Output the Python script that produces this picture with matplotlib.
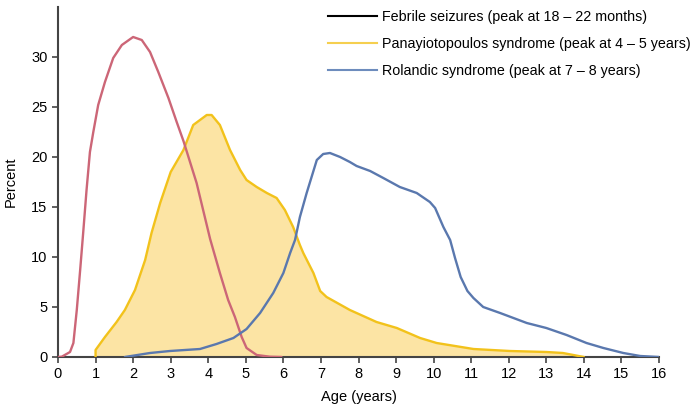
import matplotlib
matplotlib.use("Agg")
import matplotlib.pyplot as plt
from matplotlib.lines import Line2D

plt.rcParams['font.family'] = ['Liberation Sans', 'DejaVu Sans']

# Febrile seizures
feb_x = [0.0, 0.1, 0.32, 0.41, 0.50, 0.59, 0.67, 0.76, 0.85, 0.94, 1.07, 1.25, 1.47, 1.70,
         2.0, 2.23, 2.45, 2.67, 2.94, 3.16, 3.34, 3.69, 4.05, 4.31, 4.53, 4.71, 4.89, 5.02,
         5.29, 5.64, 5.95]
feb_y = [0.0, 0.03, 0.5, 1.4, 4.7, 8.7, 12.4, 16.7, 20.5, 22.5, 25.2, 27.5, 29.9, 31.2,
         32.0, 31.7, 30.5, 28.5, 25.9, 23.5, 21.6, 17.4, 11.8, 8.4, 5.7, 4.0, 2.0, 0.9,
         0.2, 0.03, 0.0]

# Panayiotopoulos syndrome
pan_x = [1.0, 1.0, 1.25, 1.56, 1.78, 2.05, 2.32, 2.49, 2.72, 3.0, 3.34, 3.6, 3.78, 3.96,
         4.09, 4.31, 4.58, 4.85, 5.02, 5.29, 5.56, 5.82, 6.04, 6.26, 6.44, 6.53, 6.8,
         6.98, 7.15, 7.77, 8.48, 9.02, 9.64, 10.08, 11.06, 12.03, 13.0, 13.44, 14.0]
pan_y = [0.0, 0.7, 2.0, 3.5, 4.7, 6.7, 9.7, 12.4, 15.4, 18.5, 20.7, 23.2, 23.7, 24.2,
         24.2, 23.2, 20.7, 18.7, 17.7, 17.0, 16.4, 15.9, 14.7, 13.0, 11.2, 10.4, 8.4,
         6.6, 6.0, 4.7, 3.5, 2.9, 1.9, 1.4, 0.8, 0.6, 0.5, 0.4, 0.0]

# Rolandic syndrome
rol_x = [1.78, 2.45, 2.98, 3.78, 4.22, 4.67, 5.02, 5.38, 5.73, 6.0, 6.18, 6.31, 6.44, 6.62,
         6.89, 7.06, 7.24, 7.51, 7.77, 7.95, 8.31, 8.66, 9.1, 9.55, 9.9, 10.04, 10.26,
         10.44, 10.57, 10.72, 10.9, 11.06, 11.32, 11.77, 12.48, 13.0, 13.54, 14.07, 14.52,
         15.05, 15.5, 16.0]
rol_y = [0.0, 0.4, 0.6, 0.8, 1.3, 1.9, 2.8, 4.4, 6.4, 8.4, 10.4, 11.7, 14.0, 16.4,
         19.7, 20.3, 20.4, 20.0, 19.5, 19.1, 18.6, 17.9, 17.0, 16.4, 15.5, 14.9, 13.0,
         11.7, 9.9, 8.0, 6.6, 5.9, 5.0, 4.4, 3.4, 2.9, 2.2, 1.4, 0.9,
         0.4, 0.1, 0.0]

labels = ["Febrile seizures (peak at 18 \u2013 22 months)",
          "Panayiotopoulos syndrome (peak at 4 \u2013 5 years)",
          "Rolandic syndrome (peak at 7 \u2013 8 years)"]

red = "#cc6677"
yellow = "#f2c21b"
yfill = "#fce4a4"
blue = "#5a78ae"

fig = plt.figure(figsize=(7.0, 4.09), dpi=100)
ax = fig.add_axes([58/700, 1-357/409, (659-58)/700, (357-7)/409])

ax.fill_between(pan_x, pan_y, 0, color=yfill, lw=0, zorder=1)
kw = dict(lw=1.7, solid_joinstyle='round', solid_capstyle='round')
ax.plot(pan_x, pan_y, color=yellow, zorder=3, **kw)
ax.plot(feb_x, feb_y, color=red, zorder=4, **kw)
ax.plot(rol_x, rol_y, color=blue, zorder=5, **kw)

ax.set_xlim(0, 16)
ax.set_ylim(0, 35)
ax.set_xticks(range(0, 17))
ax.set_yticks(range(0, 31, 5))
for s in ['top', 'right']:
    ax.spines[s].set_visible(False)
for s in ['left', 'bottom']:
    ax.spines[s].set_color('#444444')
    ax.spines[s].set_linewidth(1.5)
ax.tick_params(axis='both', colors='#444444', labelcolor='black', labelsize=10.5,
               length=4, width=1.2)
ax.set_xlabel("Age (years)", fontsize=10.5, labelpad=6)
ax.set_ylabel("Percent", fontsize=10.5, labelpad=10)

handles = [Line2D([], [], color='black', lw=1.5),
           Line2D([], [], color='#f5cf4f', lw=1.5),
           Line2D([], [], color='#6d8cbd', lw=1.5)]
fig.legend(handles, labels, loc='upper left', bbox_to_anchor=(315/700, 1.006),
           frameon=False, fontsize=10.3, handlelength=3.4, handletextpad=0.4,
           labelspacing=0.9)

fig.savefig("out.png", dpi=100)
